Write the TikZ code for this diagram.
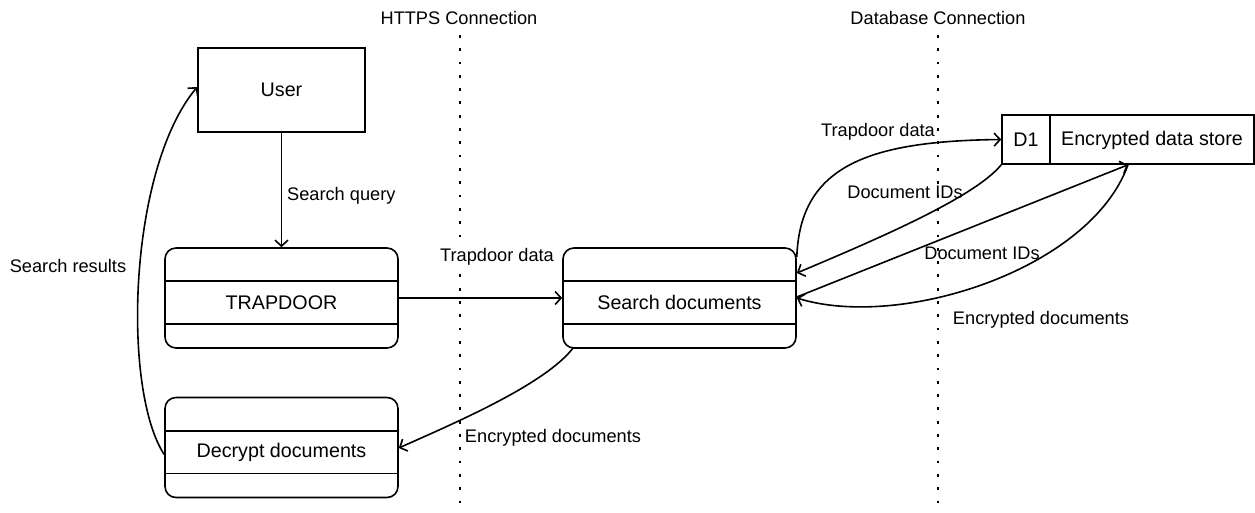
\documentclass[tikz,border=0pt]{standalone}
\usepackage{fontspec}
\setmainfont{Liberation Sans}
\usetikzlibrary{arrows.meta,calc}

\tikzset{
  every node/.style={inner sep=0pt},
  boxtext/.style={font=\fontsize{19.7}{23}\selectfont},
  lbl/.style={font=\fontsize{18.2}{22}\selectfont},
  line/.style={line width=1.6pt, draw=black},
  flow/.style={line, -{Straight Barb[length=6pt,width=13pt,line width=1.6pt]}},
  entity/.style={line, rectangle, minimum width=167pt, minimum height=84pt},
  process/.style={line, rectangle, rounded corners=11pt, minimum width=233pt, minimum height=100pt},
  storebox/.style={line, rectangle, minimum width=252pt, minimum height=49pt},
  boundary/.style={line width=2.8pt, dash pattern=on 2.8pt off 10.5pt}
}

\begin{document}
\begin{tikzpicture}[x=1pt,y=-1pt]
\useasboundingbox (0,0) rectangle (1255,513);

% trust boundaries
\node[lbl] (httpslbl) at (459,18) {HTTPS Connection};
\node[lbl] (dblbl) at (938,18) {Database Connection};
\coordinate (httpsTop) at (460,35);
\coordinate (httpsBot) at (460,513);
\coordinate (dbTop) at (938,35);
\coordinate (dbBot) at (938,513);
\draw[boundary] (httpsTop) -- (httpsBot);
\draw[boundary] (dbTop) -- (dbBot);

% external entity
\node[entity] (user) at (281.5,90) {};
\node[boxtext] (usertxt) at (user.center) {User};

% processes
\node[process] (trap) at (281.5,298) {};
\node[process] (search) at (679.5,298) {};
\node[process] (decrypt) at (281.5,447.5) {};
\foreach \p/\t in {trap/TRAPDOOR, search/Search documents, decrypt/Decrypt documents}{
  \draw[line] ([yshift=-34pt]\p.north west) -- ([yshift=-34pt]\p.north east);
  \draw[line] ([yshift=25pt]\p.south west) -- ([yshift=25pt]\p.south east);
  \node[boxtext] (\p txt) at ([yshift=-4.5pt]\p.center) {\t};
}

% data store
\node[storebox] (store) at (1128,139.5) {};
\draw[line] ([xshift=49pt]store.north west) -- ([xshift=49pt]store.south west);
\node[boxtext] (d1) at (1026,140) {D1};
\node[boxtext] (storetxt) at (1152,140) {Encrypted data store};

% flows
\draw[flow] (user.south) -- (trap.north);
\node[lbl, anchor=west] (sqlbl) at (287,196) {Search query};

\draw[flow] (trap.east) -- (search.west);
\node[lbl, fill=white, inner sep=1pt] (tdlbl1) at (497,257) {Trapdoor data};

\draw[flow] ([xshift=11pt,yshift=1pt]search.south west)
  .. controls (545,385) and (450,425) .. ([yshift=-0.5pt]decrypt.east);
\node[lbl] (edlbl1) at (553,438) {Encrypted documents};

\draw[flow] ([yshift=-7pt]decrypt.west) .. controls (122,390) and (128,170) .. ([yshift=3pt]user.west);
\node[lbl] (srlbl) at (68,266) {Search results};

\draw[flow] ([yshift=41pt]search.east) .. controls (800,165) and (870,141) .. (store.west);
\node[lbl] (tdlbl2) at (878,132) {Trapdoor data};

\draw[flow] (store.south west) .. controls (975,197) and (880,238) .. ([yshift=25pt]search.east);
\node[lbl] (dilbl1) at (905,192) {Document IDs};

\draw[flow] ([yshift=1pt]search.east) -- (store.south);
\node[lbl] (dilbl2) at (982,253) {Document IDs};

\draw[flow] (store.south) .. controls (1090,270) and (900,330) .. ([yshift=0pt]search.east);
\node[lbl] (edlbl2) at (1041,320) {Encrypted documents};
\end{tikzpicture}
\end{document}
